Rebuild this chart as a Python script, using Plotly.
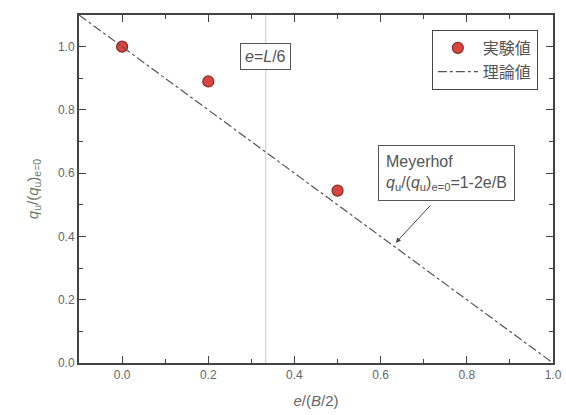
import plotly.graph_objects as go

# Measured bearing-capacity ratio vs. normalised eccentricity
ecc_ratio = [0.0, 0.2, 0.5]
qu_ratio = [1.0, 0.89, 0.545]

# Meyerhof theoretical line: qu/(qu)e=0 = 1 - 2e/B
theory_x = [-0.1, 1.0]
theory_y = [1.0 - v for v in theory_x]

# e = L/6 reference position
e_l6 = 1.0 / 3.0

x_ticks = [0.0, 0.2, 0.4, 0.6, 0.8, 1.0]
y_ticks = [0.0, 0.2, 0.4, 0.6, 0.8, 1.0]

axis_col = "#444444"
text_col = "#666666"
font_main = "Liberation Sans, Arial, sans-serif"
font_cjk = "Noto Sans CJK JP, sans-serif"

fig = go.Figure()

fig.add_trace(go.Scatter(
    x=[e_l6, e_l6], y=[0, 1.1], mode="lines",
    line=dict(color="#c8c8c8", width=1), showlegend=False, hoverinfo="skip",
))

fig.add_trace(go.Scatter(
    x=ecc_ratio, y=qu_ratio, mode="markers", name="実験値",
    marker=dict(size=11, color="#d9453f", line=dict(color="#8a2a25", width=1.2)),
))

fig.add_trace(go.Scatter(
    x=theory_x, y=theory_y, mode="lines", name="理論値",
    line=dict(color="#555555", width=1.2, dash="dashdot"),
))

axis_common = dict(
    showline=True, linecolor=axis_col, linewidth=2, mirror="ticks",
    ticks="inside", ticklen=7, tickwidth=1.2, tickcolor=axis_col,
    showgrid=False, zeroline=False, automargin=False,
    tickfont=dict(family=font_main, size=12, color=text_col),
    minor=dict(ticks="inside", ticklen=4, tickwidth=1, tickcolor=axis_col, dtick=0.1),
)

fig.update_xaxes(
    range=[-0.1, 1.0], tickvals=x_ticks, ticktext=[f"{v:.1f}" for v in x_ticks],
    title=dict(text="<i>e</i>/(<i>B</i>/2)", font=dict(family=font_main, size=15, color=text_col),
               standoff=14),
    **axis_common,
)
fig.update_yaxes(
    range=[0, 1.1], tickvals=y_ticks, ticktext=[f"{v:.1f}" for v in y_ticks],
    title=dict(text="<i>q</i><sub>u</sub>/(<i>q</i><sub>u</sub>)<sub>e=0</sub>",
               font=dict(family=font_main, size=15, color="#6b7a6b"), standoff=16),
    **axis_common,
)

fig.add_annotation(
    x=e_l6, y=0.97, xref="x", yref="y", showarrow=False,
    text="<i>e</i>=<i>L</i>/6", font=dict(family=font_main, size=16, color="#555555"),
    bordercolor="#555555", borderwidth=1, borderpad=4, bgcolor="white",
)

fig.add_annotation(
    x=0.635, y=0.38, xref="x", yref="y", text="",
    showarrow=True, axref="x", ayref="y", ax=0.719, ay=0.503,
    arrowhead=2, arrowsize=1, arrowwidth=1, arrowcolor="#444444",
)

fig.add_annotation(
    x=0.753, y=0.60, xref="x", yref="y", showarrow=False, align="left",
    text="Meyerhof<br><i>q</i><sub>u</sub>/(<i>q</i><sub>u</sub>)<sub>e=0</sub>=1-2e/B",
    font=dict(family=font_main, size=16, color="#555555"),
    bordercolor="#555555", borderwidth=1, borderpad=7, bgcolor="white",
)

fig.update_layout(
    width=566, height=415,
    margin=dict(l=79, r=13, t=15, b=52),
    paper_bgcolor="white", plot_bgcolor="white",
    legend=dict(
        x=0.968, y=0.957, xanchor="right", yanchor="top",
        bordercolor=axis_col, borderwidth=1, bgcolor="white",
        font=dict(family=font_cjk, size=16, color="#555555"),
        itemwidth=40, tracegroupgap=0,
    ),
)

fig.write_html("out.html")
